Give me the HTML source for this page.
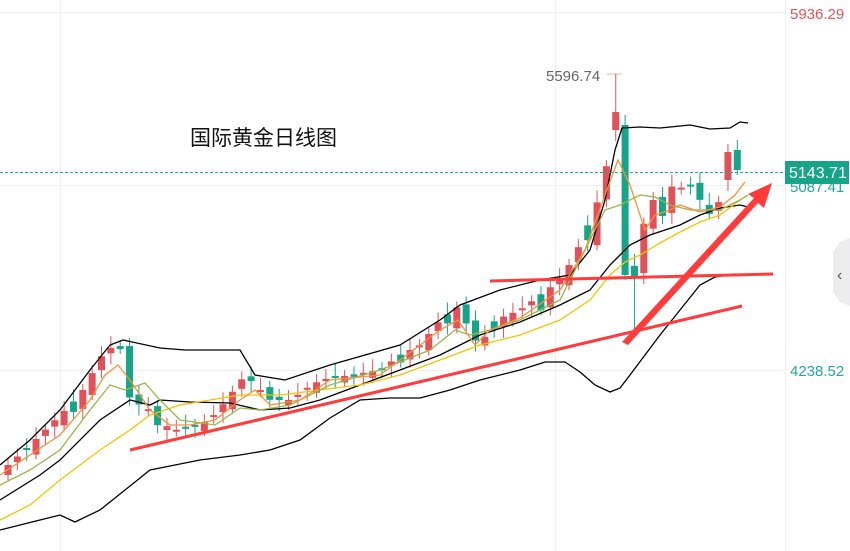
<!DOCTYPE html>
<html><head><meta charset="utf-8"><style>
html,body{margin:0;padding:0;background:#fff;width:850px;height:551px;overflow:hidden}
svg{display:block}
text{font-family:"Liberation Sans","Noto Sans CJK SC",sans-serif}
</style></head><body>
<svg id="s" width="850" height="551" viewBox="0 0 850 551" xmlns="http://www.w3.org/2000/svg">
<rect width="850" height="551" fill="#fff"/>
<g stroke="#eef0f4" stroke-width="1">
<line x1="60.5" y1="0" x2="60.5" y2="551"/>
<line x1="555.5" y1="0" x2="555.5" y2="551"/>
<line x1="785.5" y1="0" x2="785.5" y2="551"/>
<line x1="0" y1="12.5" x2="785" y2="12.5"/>
<line x1="0" y1="185.5" x2="785" y2="185.5"/>
<line x1="0" y1="370.5" x2="785" y2="370.5"/>
</g>
<g id="cd"></g>
<g id="ln" fill="none" stroke-width="1.3"></g>
<line x1="0" y1="172.5" x2="785" y2="172.5" stroke="#26a69a" stroke-dasharray="3,2" stroke-width="1"/>
<g stroke="#ff3b3b" stroke-width="3" fill="none">
<line x1="130" y1="450" x2="742" y2="306"/>
<line x1="490" y1="281" x2="773" y2="274"/>
</g>
<polygon points="622,342 754,198 748,194 772,183 764,208 758,203 628,345" fill="#ff3b3b"/>
<line x1="621.5" y1="74" x2="607" y2="74" stroke="#888" stroke-dasharray="1,1"/>
<text x="546" y="81" font-size="15" fill="#666">5596.74</text>
<text x="190" y="145" font-size="21" fill="#111">国际黄金日线图</text>
<text x="790" y="19" font-size="15" fill="#e0515a">5936.29</text>
<text x="790" y="192" font-size="15" fill="#26a69a">5087.41</text>
<rect x="785" y="161" width="64" height="23" fill="#17a589"/>
<text x="789" y="178" font-size="16" fill="#fff">5143.71</text>
<text x="790" y="376" font-size="15" fill="#26a69a">4238.52</text>
<path d="M850,238 L840,242 L833,252 L833,292 L840,302 L850,306 Z" fill="#ececef"/>
<text x="837" y="280" font-size="16" fill="#555">‹</text>
</svg>
<script>
var NS="http://www.w3.org/2000/svg";
function interp(p,x){for(var i=0;i<p.length-1;i++){if(x>=p[i][0]&&x<=p[i+1][0]){var t=(x-p[i][0])/(p[i+1][0]-p[i][0]);return p[i][1]+t*(p[i+1][1]-p[i][1]);}}return p[p.length-1][1];}
var path=[[0,470],[8,465],[30,445],[60,415],[80,395],[105,350],[120,345],[130,400],[150,410],[160,430],[175,430],[200,425],[215,415],[230,395],[245,375],[255,385],[270,400],[290,400],[320,380],[350,375],[380,370],[400,355],[420,345],[440,320],[460,305],[470,335],[480,345],[495,320],[520,310],[540,295],[560,280],[575,255],[590,220],[600,195],[610,150],[615,115],[622,110],[627,210],[635,270],[642,230],[652,195],[660,230],[668,185],[680,190],[690,185],[700,200],[710,215],[720,200],[730,190],[737,165],[745,155]];
var cd=document.getElementById("cd");
var prev=interp(path,0);
var xs=[];for(var x=8;x<=746;x+=9.35)xs.push(x);
xs.forEach(function(x,i){
 var c=interp(path,x);var o=prev+(i%3==0?5:-3);
 if(i%5==2){var t=o;o=c;c=t+ (i%2?4:-4);}
 if(x>612&&x<632){o=x<620?130:125;c=x<620?112:275;}
 if(i==xs.length-1){o=170;c=150;}
 if(i==xs.length-2){o=180;c=152;}
 var up=c<o;var col=up?"#e0515a":"#17a589";
 if(i==xs.length-1)col="#17a589";
 var top=Math.min(o,c),bot=Math.max(o,c);if(bot-top<2)bot=top+2;
 var wl=document.createElementNS(NS,"line");
 wl.setAttribute("x1",x);wl.setAttribute("x2",x);
 var hi=top-6-(i%4)*2,lo=bot+5+(i%3)*3;
 if(x>614&&x<622)hi=74;
 if(x>630&&x<640)lo=335;
 wl.setAttribute("y1",hi);wl.setAttribute("y2",lo);wl.setAttribute("stroke",col);wl.setAttribute("stroke-width","1");
 cd.appendChild(wl);
 var r=document.createElementNS(NS,"rect");
 r.setAttribute("x",x-3.5);r.setAttribute("y",top);r.setAttribute("width",7);r.setAttribute("height",bot-top);r.setAttribute("fill",col);
 cd.appendChild(r);prev=c;
});
var lines=[
["#000",[[0,465],[30,440],[60,410],[90,370],[110,345],[123,340],[160,348],[185,350],[240,350],[255,375],[285,380],[330,365],[400,345],[440,320],[460,305],[500,290],[540,280],[570,275],[590,250],[605,200],[615,150],[622,128],[640,127],[660,128],[690,125],[710,129],[730,128],[740,122],[748,123]]],
["#000",[[0,500],[40,475],[60,460],[100,420],[130,400],[150,405],[160,400],[190,402],[230,403],[260,410],[290,408],[320,400],[360,385],[400,370],[440,355],[480,335],[520,322],[560,305],[590,290],[610,265],[620,255],[630,245],[650,235],[680,225],[700,215],[720,208],[740,205],[748,207]]],
["#000",[[0,530],[40,520],[60,515],[75,522],[100,510],[125,490],[150,470],[175,465],[200,460],[240,455],[270,450],[300,440],[330,418],[360,400],[390,398],[420,398],[450,390],[480,380],[520,370],[545,362],[565,362],[580,372],[595,385],[610,392],[620,388],[630,375],[645,355],[660,335],[680,310],[700,285],[715,277],[735,274],[748,275]]],
["#f5c400",[[0,520],[30,505],[60,480],[100,450],[130,430],[150,415],[180,405],[210,400],[240,395],[280,395],[320,390],[360,385],[400,375],[440,360],[480,345],[520,335],[560,320],[590,300],[610,275],[625,262],[640,255],[660,243],[680,232],[700,222],[720,215],[740,200],[748,195]]],
["#9ab54a",[[0,485],[30,470],[60,450],[90,410],[110,385],[125,390],[145,383],[160,400],[180,420],[215,425],[240,408],[260,410],[290,405],[330,385],[380,370],[430,350],[455,330],[470,335],[490,330],[520,320],[560,300],[585,250],[605,210],[620,205],[630,200],[640,195],[655,197],[670,205],[690,210],[700,210],[720,210],[740,200],[748,195]]],
["#f5913a",[[0,475],[30,455],[60,435],[90,400],[105,375],[118,365],[130,380],[150,410],[170,425],[190,425],[215,420],[240,400],[255,390],[270,405],[300,400],[330,380],[380,375],[420,345],[440,330],[458,320],[475,345],[490,330],[520,318],[560,290],[585,250],[605,195],[618,160],[630,185],[645,230],[655,215],[670,210],[680,205],[700,212],[720,207],[735,195],[745,182]]]
];
var ln=document.getElementById("ln");
lines.forEach(function(l){var p=document.createElementNS(NS,"polyline");p.setAttribute("points",l[1].map(function(q){return q.join(",")}).join(" "));p.setAttribute("stroke",l[0]);ln.appendChild(p);});
</script>
</body></html>
